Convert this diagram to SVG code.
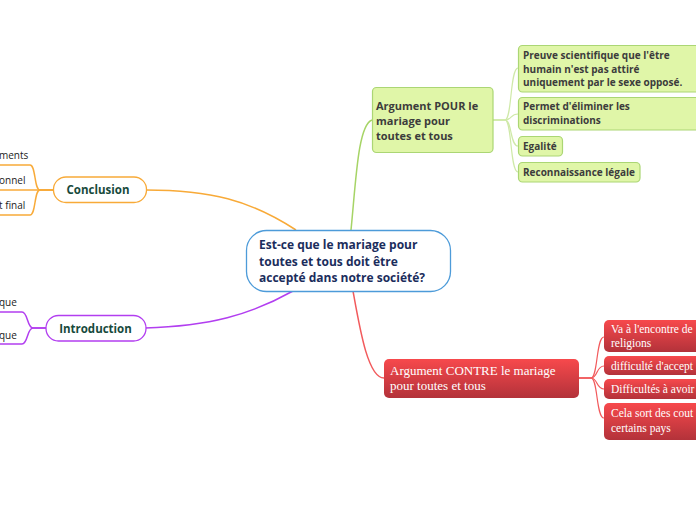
<svg xmlns="http://www.w3.org/2000/svg" width="696" height="520" viewBox="0 0 696 520">
<defs>
<linearGradient id="red" x1="0" y1="0" x2="0" y2="1">
<stop offset="0" stop-color="#f7494c"/>
<stop offset="1" stop-color="#b3323a"/>
</linearGradient>
<style>
.c{fill:none;stroke-width:1.5}
.or{stroke:#f8aa38}
.pu{stroke:#b23ef0}
.gr{stroke:#a6d466}
.grl{stroke:#cfe9a8;stroke-width:1.2}
.rd{stroke:#f25a5c}
.gbox{fill:#e0f6a8;stroke:#abd674;stroke-width:1.2}
.rbox{fill:url(#red)}
.gt{font-family:"Open Sans","Noto Sans",sans-serif;font-weight:bold;fill:#3c3c3c}
.rt{font-family:"Liberation Serif","DejaVu Serif",serif;fill:#ffffff}
.lt{font-family:"Open Sans","Noto Sans",sans-serif;font-size:10px;fill:#222}
.mt{font-family:"Open Sans","Noto Sans",sans-serif;font-weight:bold;font-size:11.5px;fill:#174a3c}
</style>
</defs>
<g id="connectors">
<path class="c or" d="M146,190 C210,190 250,200 296,230"/>
<path class="c pu" d="M145,328 C210,326 250,315 293,291"/>
<path class="c gr" d="M351,230 C356,180 358,125 372,120"/>
<path class="c rd" d="M353,291 C360,330 368,378 384,378"/>
<path class="c grl" d="M493,120 L505,120 C512,120 510,68 518,68"/>
<path class="c grl" d="M493,120 L505,120 C512,120 510,114 518,114"/>
<path class="c grl" d="M493,120 L505,120 C512,120 510,146 518,146"/>
<path class="c grl" d="M493,120 L505,120 C512,120 510,172 518,172"/>
<path class="c rd" style="stroke-width:1.2" d="M579,378 L591,378 C598,378 596,337 604,337"/>
<path class="c rd" style="stroke-width:1.2" d="M579,378 L591,378 C598,378 596,366 604,366"/>
<path class="c rd" style="stroke-width:1.2" d="M579,378 L591,378 C598,378 596,389 604,389"/>
<path class="c rd" style="stroke-width:1.2" d="M579,378 L591,378 C598,378 596,418 604,418"/>
<path class="c or" d="M53,190 L40,190 C34,190 36,165 30,165 L0,165"/>
<path class="c or" d="M53,190 L0,190"/>
<path class="c or" d="M53,190 L40,190 C34,190 36,215 30,215 L0,215"/>
<path class="c pu" d="M46,328 L33,328 C27,328 28,312 22,312 L0,312"/>
<path class="c pu" d="M46,328 L33,328 C27,328 28,344 22,344 L0,344"/>
</g>
<g id="center">
<rect x="246.5" y="230.5" width="204" height="61" rx="20" fill="#fff" stroke="#4d9bd9" stroke-width="1.3"/>
<text font-family="'Open Sans','Noto Sans',sans-serif" font-weight="bold" font-size="12px" fill="#1b2d5c"><tspan x="259" y="249">Est-ce que le mariage pour</tspan><tspan x="259" y="265.5">toutes et tous doit être</tspan><tspan x="259" y="282">accepté dans notre société?</tspan></text>
</g>
<g id="conclusion">
<rect x="53.5" y="177" width="93" height="25.5" rx="12.5" fill="#fff" stroke="#f8aa38" stroke-width="1.3"/>
<text class="mt" x="98" y="194" text-anchor="middle">Conclusion</text>
</g>
<g id="conclusion-1"><text class="lt" x="-1" y="159">ments</text></g>
<g id="conclusion-2"><text class="lt" x="-1" y="184">onnel</text></g>
<g id="conclusion-3"><text class="lt" x="-1" y="209">t final</text></g>
<g id="introduction">
<rect x="46" y="315.5" width="100" height="25.5" rx="12.5" fill="#fff" stroke="#b23ef0" stroke-width="1.3"/>
<text class="mt" x="95.5" y="333" text-anchor="middle">Introduction</text>
</g>
<g id="introduction-1"><text class="lt" x="-1" y="306">que</text></g>
<g id="introduction-2"><text class="lt" x="-1" y="339">que</text></g>
<g id="pour">
<rect class="gbox" x="372.5" y="87.5" width="120.5" height="65" rx="4"/>
<text class="gt" font-size="11px"><tspan x="376" y="110">Argument POUR le</tspan><tspan x="376" y="125">mariage pour</tspan><tspan x="376" y="140">toutes et tous</tspan></text>
</g>
<g id="pour-1">
<rect class="gbox" x="518.5" y="45.5" width="185" height="46.5" rx="4"/>
<text class="gt" font-size="10px"><tspan x="523" y="59">Preuve scientifique que l'être</tspan><tspan x="523" y="72.5">humain n'est pas attiré</tspan><tspan x="523" y="86">uniquement par le sexe opposé.</tspan></text>
</g>
<g id="pour-2">
<rect class="gbox" x="518.5" y="97.5" width="185" height="32.5" rx="4"/>
<text class="gt" font-size="10px"><tspan x="523" y="110">Permet d'éliminer les</tspan><tspan x="523" y="124">discriminations</tspan></text>
</g>
<g id="pour-3">
<rect class="gbox" x="518.5" y="136.5" width="44" height="19.5" rx="4"/>
<text class="gt" font-size="10px" x="523" y="150">Egalité</text>
</g>
<g id="pour-4">
<rect class="gbox" x="518.5" y="162.5" width="121.5" height="19.5" rx="4"/>
<text class="gt" font-size="10px" x="523" y="176">Reconnaissance légale</text>
</g>
<g id="contre">
<rect class="rbox" x="384" y="359" width="195" height="39" rx="5"/>
<text class="rt" font-size="13px"><tspan x="390" y="375">Argument CONTRE le mariage</tspan><tspan x="390" y="390">pour toutes et tous</tspan></text>
</g>
<g id="contre-1">
<rect class="rbox" x="604" y="320" width="100" height="32" rx="5"/>
<text class="rt" font-size="11.5px"><tspan x="611" y="333">Va à l'encontre de</tspan><tspan x="611" y="347">religions</tspan></text>
</g>
<g id="contre-2">
<rect class="rbox" x="604" y="356" width="100" height="19" rx="5"/>
<text class="rt" font-size="11.5px" x="611" y="369.5">difficulté d'accept</text>
</g>
<g id="contre-3">
<rect class="rbox" x="604" y="379" width="100" height="20" rx="5"/>
<text class="rt" font-size="11.5px" x="611" y="393">Difficultés à avoir</text>
</g>
<g id="contre-4">
<rect class="rbox" x="604" y="403" width="100" height="37" rx="5"/>
<text class="rt" font-size="11.5px"><tspan x="611" y="417">Cela sort des cout</tspan><tspan x="611" y="432">certains pays</tspan></text>
</g>
</svg>
